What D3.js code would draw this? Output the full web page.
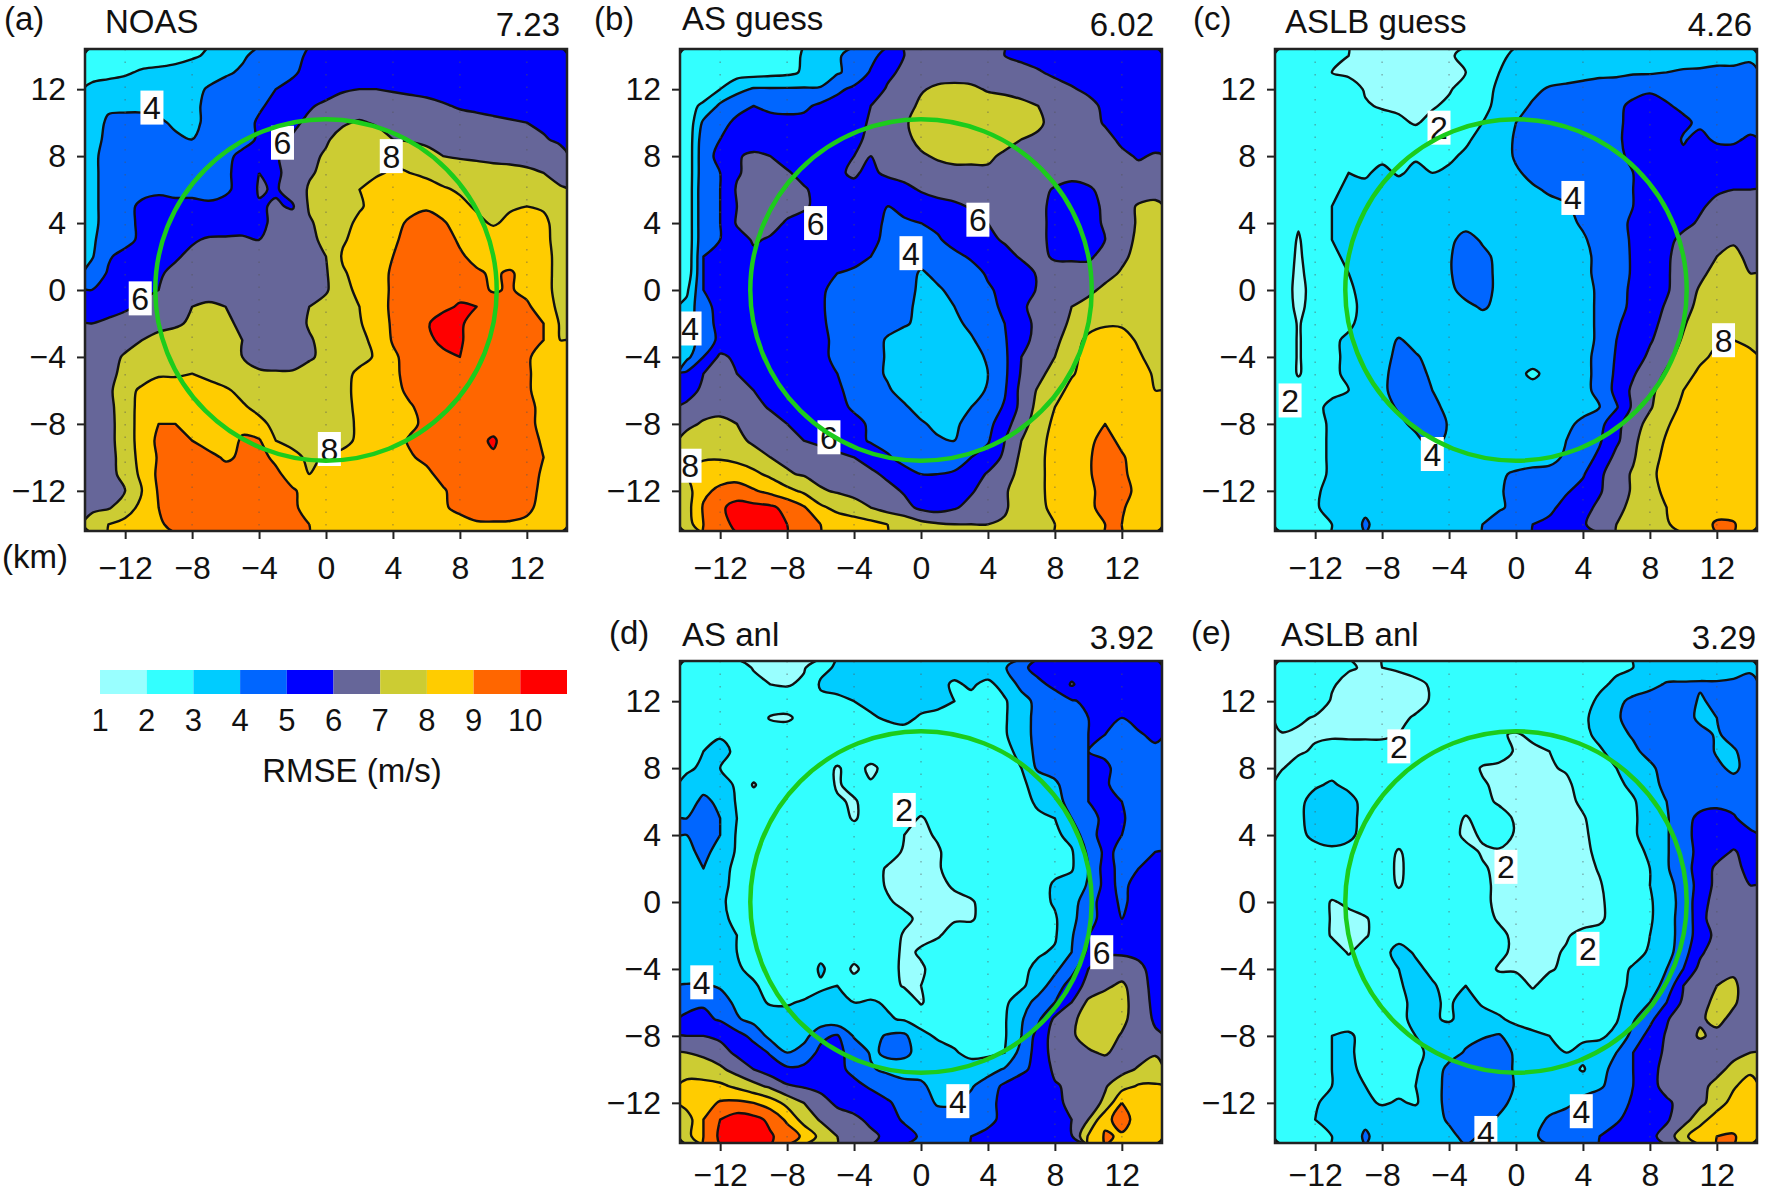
<!DOCTYPE html>
<html lang="en">
<head>
<meta charset="UTF-8">
<title>RMSE panels</title>
<script src="https://d3js.org/d3.v7.min.js"></script>
<style>
  body { margin: 0; background: #fff; }
  text { font-family: "Liberation Sans", Arial, sans-serif; fill: #111; }
</style>
</head>
<body>
<svg width="1767" height="1193"></svg>
<script>
// grids are RMSE in 0.1 m/s, every 1 km
// rows run y = 14 .. -14, columns x = -14 .. 14
var noasGrid = [
[26,26,26,26,26,27,29,31,35,39,42,46,48,51,53,54,54,54,54,54,54,54,54,54,54,54,54,54,54],
[27,28,29,31,32,33,34,36,39,41,43,46,49,52,54,55,55,54,54,54,54,54,54,54,54,54,54,54,54],
[32,33,34,35,36,36,37,41,43,45,47,50,52,54,56,59,60,60,59,58,57,56,56,55,55,54,54,54,54],
[35,39,38,38,38,38,39,41,43,46,49,52,55,59,62,64,65,65,65,64,63,61,59,58,57,56,55,54,53],
[37,41,43,43,41,39,39,41,43,47,51,54,58,62,66,69,71,69,68,67,66,65,64,63,62,61,60,58,56],
[37,42,44,44,43,41,40,42,44,47,51,55,61,65,69,73,75,74,70,69,68,67,66,65,64,63,62,61,58],
[38,43,44,45,46,46,46,46,48,52,55,59,64,68,71,74,76,77,78,76,73,70,69,68,67,67,66,65,64],
[38,43,45,46,47,47,47,47,49,52,60,58,64,69,72,75,77,79,81,80,78,76,75,75,74,73,72,70,67],
[38,43,45,47,49,48,48,48,49,52,61,59,64,71,74,77,80,83,85,85,84,81,79,78,78,77,76,74,71],
[38,43,47,52,52,52,52,51,52,54,59,61,59,71,75,78,79,83,86,88,89,86,82,79,79,79,80,79,75],
[38,43,47,52,54,54,55,55,56,57,58,62,65,69,73,77,82,85,88,91,93,91,86,82,79,82,83,82,76],
[39,43,47,52,54,56,59,61,61,61,60,62,65,68,72,79,83,86,89,92,94,93,89,86,85,84,83,82,77],
[39,49,53,55,57,59,62,64,65,65,65,65,66,68,70,81,84,87,90,92,94,93,91,88,86,86,85,83,77],
[44,51,54,56,59,62,64,65,66,66,66,66,67,68,69,79,83,87,91,93,95,94,92,91,89,91,87,83,77],
[50,53,55,57,60,62,64,65,66,66,66,66,67,68,69,76,83,87,91,93,95,96,97,93,89,91,87,83,77],
[50,54,58,62,64,66,70,72,70,67,66,65,64,70,73,76,80,85,92,94,96,98,101,100,96,93,92,84,78],
[60,63,65,67,68,69,71,73,72,68,66,65,65,71,74,76,79,86,91,95,99,104,101,97,95,94,93,90,79],
[62,65,67,70,72,73,74,74,72,70,65,64,65,69,73,76,78,82,91,95,98,102,101,96,94,94,93,90,80],
[63,67,71,73,75,76,77,76,73,70,62,61,62,69,72,75,77,81,88,94,96,98,100,97,95,94,91,87,80],
[63,68,72,75,79,79,80,78,76,74,73,72,72,73,75,77,82,85,88,93,95,96,97,96,95,94,91,87,81],
[63,68,76,82,84,84,84,83,81,78,76,74,73,73,74,77,83,85,87,92,94,95,96,96,95,94,91,87,82],
[62,67,76,83,87,88,87,86,84,81,78,76,74,73,73,76,83,85,87,89,93,95,96,96,96,95,92,88,82],
[62,67,75,84,90,90,88,87,85,88,82,78,76,74,73,76,82,85,86,88,92,94,96,97,97,95,92,88,82],
[61,67,75,84,92,94,90,87,86,91,91,80,77,75,74,77,82,84,86,91,94,96,97,98,101,96,93,89,82],
[60,66,75,83,91,95,95,92,89,91,93,88,83,78,81,83,84,85,86,89,92,95,97,98,99,96,93,90,83],
[60,66,74,82,92,95,96,95,93,93,94,92,86,80,82,83,84,85,86,87,88,93,96,97,97,96,93,89,83],
[61,65,70,80,91,95,96,96,96,96,95,93,91,87,85,84,84,84,85,86,87,89,94,96,96,96,93,88,82],
[68,69,75,83,90,94,95,95,94,94,93,92,91,88,85,84,84,84,84,85,86,89,92,94,95,94,92,87,82],
[74,80,83,85,89,92,93,93,93,92,92,92,91,90,85,84,84,84,84,84,84,85,87,89,89,89,88,85,81]];

var asGuessGrid = [
[25,25,25,25,25,25,26,31,35,39,43,47,54,60,62,63,63,63,62,60,58,56,55,54,54,53,53,53,53],
[24,25,25,26,26,27,28,31,34,39,43,51,58,62,64,65,65,65,65,64,63,61,58,56,55,54,53,53,53],
[25,27,30,37,41,41,41,41,41,48,52,55,61,65,69,72,73,72,69,68,67,66,64,61,58,56,55,54,54],
[28,31,42,47,50,48,47,48,52,54,57,60,63,66,72,74,75,75,75,74,72,70,68,66,63,58,55,54,53],
[22,42,47,52,53,53,53,53,53,54,57,61,64,69,73,75,76,76,76,76,75,71,68,66,64,59,56,54,53],
[22,46,50,53,54,54,54,54,55,56,58,62,65,68,72,74,75,75,74,72,70,69,68,67,65,63,58,56,56],
[22,47,52,59,62,60,56,55,56,58,60,60,64,67,69,71,72,72,71,69,68,68,67,66,65,64,62,59,61],
[22,47,50,59,63,63,61,57,56,59,61,58,62,64,66,67,68,68,69,69,68,67,65,63,63,63,63,63,63],
[22,48,50,61,64,64,63,61,57,55,58,56,54,57,61,64,65,66,66,66,65,63,59,57,59,62,64,65,65],
[22,48,50,60,64,64,63,62,56,54,52,51,50,52,54,56,58,61,63,65,65,62,58,56,56,62,66,71,73],
[22,48,50,61,63,63,59,55,54,52,52,52,49,49,50,52,55,57,60,62,64,62,58,55,54,62,66,71,74],
[22,48,50,56,61,59,56,54,53,52,52,51,49,46,46,49,53,56,58,61,63,62,58,55,54,60,66,72,75],
[22,50,53,54,58,55,54,53,52,52,52,50,47,44,43,45,48,51,54,57,61,62,59,58,58,64,68,73,76],
[23,50,53,54,55,55,54,53,51,50,49,48,46,44,39,42,44,47,51,53,56,61,63,65,65,67,71,74,76],
[28,50,53,54,55,55,54,53,51,48,46,45,44,42,39,39,42,45,49,52,55,61,64,66,68,72,74,75,76],
[33,48,52,54,55,54,54,53,51,47,45,44,43,42,38,37,40,43,47,52,59,62,66,70,73,75,76,76,76],
[34,47,52,56,55,54,54,53,51,48,46,45,43,41,38,36,38,42,45,50,57,62,65,72,77,79,79,77,76],
[34,45,52,60,55,54,54,53,51,49,46,44,39,36,34,34,36,39,44,49,58,62,67,76,82,84,83,79,77],
[37,50,62,58,54,54,53,53,51,49,46,44,39,35,33,33,34,37,41,48,60,63,70,77,84,86,85,81,77],
[52,60,65,60,56,55,54,54,52,50,47,43,39,35,33,32,33,36,40,48,61,67,74,79,84,87,87,83,79],
[56,62,66,65,60,56,55,54,53,51,48,44,41,37,34,32,33,36,41,49,63,71,76,83,86,87,87,84,80],
[62,63,65,65,63,59,56,55,54,52,49,46,43,41,37,34,35,40,45,51,63,73,80,84,87,88,87,85,82],
[66,72,74,70,67,64,60,57,56,55,52,49,46,43,41,38,39,42,47,56,66,75,82,85,87,90,88,85,83],
[76,77,76,73,68,66,64,60,58,56,53,49,47,45,43,41,40,43,49,60,70,77,83,85,88,93,88,85,83],
[77,79,79,77,75,70,68,66,64,62,60,56,51,47,45,45,46,50,54,62,72,78,83,86,89,94,91,86,83],
[81,84,86,86,82,78,71,69,67,65,63,62,58,53,50,50,51,55,61,66,73,78,83,86,89,94,92,86,83],
[76,88,92,94,91,87,83,78,71,69,67,65,63,59,54,52,55,59,64,69,74,78,83,86,88,93,94,87,83],
[76,91,98,104,103,102,97,91,82,77,74,70,66,63,58,56,59,63,66,69,74,78,82,85,88,93,91,86,83],
[74,90,97,102,101,101,100,98,90,87,85,83,80,77,73,71,70,70,70,71,74,77,80,83,86,90,90,85,82]];

var aslbGuessGrid = [
[26,26,26,22,20,19,18,18,18,18,19,22,27,29,31,33,34,34,35,35,35,36,36,36,36,37,37,37,38],
[26,27,27,20,18,17,17,17,17,17,17,20,26,30,32,33,35,36,37,38,38,39,39,40,41,41,42,42,43],
[27,28,28,27,25,19,18,17,17,17,19,24,28,31,35,38,41,42,43,44,45,47,49,47,46,45,44,44,44],
[27,28,28,27,26,21,19,18,17,19,22,25,28,32,37,41,43,44,45,46,48,52,53,51,48,46,45,44,44],
[28,28,28,28,27,26,24,22,19,23,26,28,30,35,40,42,43,44,45,46,48,53,56,54,52,48,46,45,45],
[28,28,29,28,28,28,27,27,26,26,27,29,32,36,41,43,44,45,45,46,48,54,57,56,49,53,48,48,52],
[28,28,29,28,28,28,28,28,29,28,29,31,33,36,41,43,44,45,46,47,48,52,56,57,52,56,56,55,55],
[28,28,28,28,30,29,32,29,32,30,31,33,35,37,39,42,44,45,46,47,49,50,54,56,57,57,57,58,58],
[28,28,28,29,31,32,33,34,34,35,35,35,36,37,38,39,41,43,45,47,49,50,54,57,58,59,59,60,60],
[28,28,28,30,31,32,33,34,34,35,35,35,35,36,36,37,38,39,43,46,49,50,53,55,57,59,62,64,65],
[27,21,27,30,31,32,33,34,35,35,36,37,36,36,36,36,37,38,41,44,48,51,53,56,58,61,64,66,67],
[27,19,27,30,31,32,33,34,35,36,38,43,39,37,36,36,36,37,39,43,47,51,54,58,62,65,67,69,68],
[27,18,27,29,31,32,33,34,35,37,39,45,42,38,36,36,36,37,38,42,46,51,54,59,63,66,70,72,68],
[27,17,26,28,30,32,33,34,35,37,39,45,43,38,36,36,36,37,38,42,46,51,54,59,64,68,73,75,70],
[27,16,25,27,29,32,33,34,35,36,38,43,43,38,36,36,36,36,38,41,46,52,55,59,65,71,75,78,76],
[27,17,25,27,29,31,33,34,35,36,37,38,41,38,36,36,36,36,38,41,47,52,56,61,66,73,76,78,77],
[28,19,26,28,29,32,33,34,35,36,36,36,36,36,36,36,36,36,38,41,49,53,57,63,69,75,78,79,77],
[28,19,26,29,31,32,35,41,37,36,36,36,36,36,36,36,36,36,38,41,50,53,59,65,71,76,79,80,79],
[28,19,26,29,31,33,36,43,41,37,36,35,35,35,35,35,35,36,38,42,51,55,62,68,73,78,82,83,81],
[28,19,26,29,31,33,37,45,44,38,36,35,34,34,33,28,33,35,38,42,52,59,66,71,76,82,84,85,82],
[27,25,28,29,30,33,37,46,46,40,37,35,34,34,34,34,34,35,38,42,53,62,68,74,80,83,85,85,83],
[27,27,29,31,30,33,37,41,47,43,37,35,34,34,34,33,34,35,37,40,49,62,69,76,82,85,86,86,84],
[27,27,28,31,33,34,36,38,42,46,39,36,35,35,35,35,36,38,42,47,57,66,73,79,84,86,87,86,84],
[27,27,28,31,33,34,36,37,38,43,38,36,35,35,35,35,37,40,45,49,58,68,75,81,85,87,87,86,84],
[27,27,28,31,33,34,35,36,37,37,36,36,36,36,36,37,38,41,46,52,63,69,77,82,85,87,87,86,84],
[27,27,28,31,33,34,35,35,36,36,36,37,38,39,41,42,42,46,49,58,66,71,78,83,85,86,87,86,84],
[27,27,29,32,33,34,35,35,36,36,36,37,38,39,43,45,47,49,53,59,66,71,77,82,85,86,86,85,83],
[27,27,29,33,35,37,36,36,36,36,37,38,38,39,42,45,48,53,57,62,68,72,76,80,84,86,87,85,83],
[26,27,28,30,32,42,34,35,35,36,37,38,40,44,47,50,52,55,59,64,70,73,76,79,84,87,91,91,83]];

var asAnlGrid = [
[26,27,27,26,19,18,18,19,28,31,33,33,33,33,33,33,33,34,35,39,48,53,54,55,55,54,54,54,54],
[27,27,27,26,24,20,19,22,31,33,34,34,34,34,33,32,29,31,28,33,43,48,52,61,55,54,54,53,53],
[27,27,27,27,27,27,27,27,28,28,30,32,33,33,33,32,30,28,28,29,36,43,46,49,52,54,54,53,53],
[28,28,28,28,27,19,18,24,27,27,28,29,31,32,29,28,28,28,28,29,36,43,45,47,50,54,50,53,52],
[27,28,29,28,27,27,27,26,26,26,26,26,26,27,27,27,27,27,28,29,36,43,46,48,50,50,49,49,52],
[27,30,33,28,27,27,27,26,26,26,26,26,26,26,26,27,27,27,27,28,32,44,47,49,50,49,48,47,48],
[29,31,30,28,26,26,26,26,25,19,24,18,23,26,26,26,27,27,27,28,30,42,44,47,50,51,48,47,47],
[32,37,33,29,19,26,26,26,25,19,23,21,24,25,26,26,26,27,27,28,29,32,38,46,50,51,47,46,47],
[36,42,38,29,26,26,26,26,25,21,19,24,25,25,26,26,26,26,27,27,28,31,36,44,50,52,50,46,46],
[40,45,40,30,26,26,26,25,25,24,19,24,25,24,19,24,25,26,26,26,27,29,30,40,47,52,51,46,47],
[40,45,40,29,26,26,26,25,25,25,25,25,24,20,18,21,24,25,26,26,27,27,28,33,47,53,50,46,49],
[37,43,36,29,26,26,25,25,25,25,25,25,24,19,18,19,24,25,26,26,27,27,28,29,42,52,48,47,50],
[32,40,33,28,26,26,25,25,25,25,25,24,19,18,17,19,24,25,25,26,26,27,28,29,40,54,47,50,54],
[30,34,32,28,26,26,25,25,25,25,25,24,19,18,17,18,21,24,25,25,26,27,31,34,41,53,48,53,53],
[30,32,31,28,26,26,25,25,25,25,25,24,21,18,17,17,18,19,24,25,26,27,31,35,47,53,49,52,54],
[30,32,31,29,26,26,25,25,25,25,25,25,24,22,18,18,19,19,24,25,26,27,29,37,47,53,50,54,54],
[31,32,31,30,27,26,25,25,25,25,25,25,25,19,18,19,24,25,25,25,26,27,29,39,50,54,55,55,55],
[31,32,32,30,27,26,25,25,28,25,25,25,25,18,21,25,25,25,25,26,27,29,31,40,52,59,59,58,56],
[32,33,32,31,28,26,25,25,31,27,18,25,24,18,19,23,25,25,25,26,28,32,38,46,60,63,64,62,57],
[41,41,39,36,31,27,25,25,29,30,25,25,24,19,20,24,25,25,25,26,28,36,44,55,63,68,72,64,57],
[45,49,44,38,33,29,29,31,32,31,30,31,29,27,19,26,26,26,26,28,36,43,50,60,72,75,74,64,58],
[53,52,49,41,37,35,34,33,33,33,33,33,31,29,27,26,26,26,27,29,39,48,62,68,74,77,73,64,59],
[60,60,58,54,47,37,36,36,48,51,39,37,41,42,32,29,27,27,28,29,40,54,64,69,73,75,69,63,61],
[70,68,64,58,55,49,40,45,52,52,47,39,41,42,37,33,31,27,28,30,44,54,64,67,69,71,67,66,69],
[74,75,72,66,60,55,52,52,52,52,48,41,38,36,38,36,35,35,36,41,48,53,62,64,64,65,67,71,74],
[84,83,82,78,73,68,61,59,57,55,52,49,46,43,41,38,36,39,45,52,55,56,59,62,65,69,76,81,81],
[84,86,91,92,90,85,77,70,64,58,56,54,51,47,44,39,39,43,48,52,54,55,58,62,65,72,90,87,84],
[75,90,100,105,103,98,88,76,69,65,62,58,53,49,46,44,45,47,49,51,53,55,57,60,70,88,93,87,84],
[76,90,102,103,102,101,96,88,77,70,65,62,58,53,49,48,49,50,51,52,54,55,56,59,81,91,89,86,84]];

var aslbAnlGrid = [
[27,27,27,26,21,19,20,21,23,25,26,26,27,27,27,27,27,27,27,28,29,30,32,34,35,36,36,38,39],
[27,27,27,21,17,16,16,17,18,21,24,25,26,27,27,27,27,27,28,29,31,33,37,41,41,41,41,41,42],
[27,27,26,19,16,15,15,15,17,21,24,25,26,27,27,27,27,27,28,31,37,43,45,46,44,39,42,44,45],
[26,22,19,17,16,16,16,18,21,24,25,26,26,27,27,27,27,27,29,32,39,43,45,46,44,38,40,44,45],
[19,18,18,18,18,18,18,20,23,25,26,26,26,21,19,22,26,27,28,32,37,41,44,46,46,43,39,43,45],
[18,18,22,26,25,25,25,26,26,26,26,26,26,24,19,18,20,25,27,29,33,38,43,46,46,45,39,39,44],
[19,26,27,27,27,26,26,26,26,26,26,25,19,18,17,18,19,21,26,28,30,34,38,44,46,46,42,38,44],
[27,27,29,31,28,26,26,26,25,25,25,25,21,18,17,16,17,18,24,26,28,32,36,43,46,46,46,44,45],
[27,28,33,35,33,27,26,25,25,25,25,25,22,19,17,15,16,17,22,25,27,29,35,40,46,47,48,47,45],
[27,28,34,36,33,27,26,25,25,25,25,19,24,23,19,16,15,16,19,25,27,29,33,39,47,52,53,51,46],
[27,28,32,34,32,27,26,25,25,25,24,18,21,24,19,16,15,16,18,24,26,29,33,39,47,53,54,54,52],
[27,28,27,28,27,26,25,19,25,25,25,23,19,19,17,15,14,15,17,23,26,28,31,39,47,52,56,61,56],
[27,27,27,27,26,26,25,18,25,25,25,24,21,18,16,15,14,14,16,21,26,28,30,39,46,54,62,63,57],
[26,27,27,27,26,26,25,19,25,25,25,24,22,18,16,15,14,14,16,19,26,28,30,36,45,53,63,64,60],
[26,26,27,19,22,26,26,25,25,25,25,24,22,18,16,15,14,14,15,18,25,28,29,35,44,55,65,66,64],
[26,25,27,19,17,19,25,26,26,26,25,24,23,19,16,14,14,15,16,18,25,27,29,35,45,54,70,67,65],
[27,27,27,19,17,19,25,27,26,26,25,24,23,22,18,16,18,19,23,24,25,27,30,35,45,54,63,68,66],
[27,27,27,26,19,25,27,33,29,26,25,24,23,22,18,17,18,21,23,24,25,27,31,36,46,58,66,68,67],
[27,27,27,27,26,26,27,30,32,28,26,25,24,19,19,19,19,22,23,24,27,31,35,40,50,63,67,69,67],
[27,27,27,27,27,27,27,29,33,31,27,30,26,25,24,19,24,24,24,25,27,32,36,43,60,64,70,71,67],
[27,27,27,27,27,27,27,28,32,31,29,33,29,27,26,25,25,25,25,26,28,34,40,50,62,66,73,71,66],
[27,27,27,27,27,26,26,27,33,31,29,33,33,31,28,26,25,25,25,26,29,39,47,59,66,69,72,68,65],
[27,27,27,30,31,28,26,26,30,33,35,37,39,41,34,32,30,28,28,28,33,43,54,61,66,71,68,66,65],
[27,27,27,30,31,28,27,26,28,32,36,41,45,46,38,35,33,30,33,36,40,50,55,62,64,65,66,67,70],
[27,27,28,30,32,28,27,26,29,34,43,46,47,47,38,36,35,34,29,37,43,50,57,63,64,65,67,73,78],
[27,27,28,30,33,30,26,27,30,36,43,47,47,46,39,37,36,36,37,39,43,50,58,62,64,67,73,79,84],
[27,27,29,33,34,32,29,31,29,36,43,47,46,42,38,37,37,38,42,44,47,51,56,59,62,67,76,83,84],
[27,27,30,33,35,37,36,36,36,37,41,47,42,39,37,37,41,44,46,47,49,53,56,59,65,77,84,85,84],
[26,27,28,30,32,42,34,35,36,36,38,42,39,37,37,39,42,45,48,50,53,55,58,63,78,85,90,91,84]];

var noasLabels = [["4",-10.4,10.9],["6",-2.6,8.8],["8",3.9,8],["6",-11.1,-0.5],["8",0.2,-9.5]];
var asGuessLabels = [["6",-6.3,4],["6",3.4,4.2],["4",-0.6,2.2],["4",-13.8,-2.3],["6",-5.5,-8.8],["8",-13.8,-10.5]];
var aslbGuessLabels = [["2",-4.6,9.7],["4",3.4,5.5],["8",12.4,-3],["2",-13.5,-6.6],["4",-5,-9.8]];
var asAnlLabels = [["2",-1,5.5],["6",10.8,-3],["4",-13.1,-4.8],["4",2.2,-11.9]];
var aslbAnlLabels = [["2",-7,9.3],["2",-0.6,2.1],["2",4.3,-2.8],["4",3.9,-12.5],["4",-1.8,-13.8]];

var panelIds = ["(a)", "(b)", "(c)", "(d)", "(e)"];
var panelNames = ["NOAS", "AS guess", "ASLB guess", "AS anl", "ASLB anl"];
var panelScores = ["7.23", "6.02", "4.26", "3.92", "3.29"];
var axisTicks = [-12, -8, -4, 0, 4, 8, 12];
var levels = [1, 2, 3, 4, 5, 6, 7, 8, 9, 10];
var levelColors = ["#99ffff", "#33ffff", "#00ccff", "#0066ff", "#0000ff", "#666699", "#cccc33", "#ffcc00", "#ff6600", "#ff0000"];
var ringRadius = 10.2;

var grids = [noasGrid, asGuessGrid, aslbGuessGrid, asAnlGrid, aslbAnlGrid];
var labelSets = [noasLabels, asGuessLabels, aslbGuessLabels, asAnlLabels, aslbAnlLabels];

// plot box and title offsets for each panel, pad is the gap under the x ticks
var layout = [
  {l: 85,   t: 49,  pad: 17, idx: 4,    idy: 30,  nx: 105,  ny: 33,  sx: 560,  sy: 36},
  {l: 680,  t: 49,  pad: 17, idx: 594,  idy: 30,  nx: 682,  ny: 30,  sx: 1154, sy: 36},
  {l: 1275, t: 49,  pad: 17, idx: 1193, idy: 30,  nx: 1285, ny: 33,  sx: 1752, sy: 36},
  {l: 680,  t: 661, pad: 12, idx: 609,  idy: 644, nx: 682,  ny: 646, sx: 1154, sy: 649},
  {l: 1275, t: 661, pad: 12, idx: 1191, idy: 644, nx: 1281, ny: 646, sx: 1756, sy: 649}
];
var size = 482, tickFont = 32, titleFont = 33;

var svg = d3.select("svg");
var color = d3.scaleThreshold().domain(levels.slice(1)).range(levelColors);
var fmt = function(d) { return d < 0 ? "\u2212" + (-d) : "" + d; };

// contour rings come back in grid units, smooth them a little when drawn
var contours = d3.contours().size([29, 29]).thresholds(levels);

grids.forEach(function(grid, i) {
  grid.forEach(function(row) { if (row.length !== 29) throw new Error("bad row in panel " + i + ": " + row.length); });
  if (grid.length !== 29) throw new Error("bad grid " + i + ": " + grid.length);

  var box = layout[i];
  var x = d3.scaleLinear().domain([-14.4, 14.4]).range([0, size]);
  var y = d3.scaleLinear().domain([-14.4, 14.4]).range([size, 0]);
  var g = svg.append("g").attr("transform", "translate(" + box.l + "," + box.t + ")");

  svg.append("clipPath").attr("id", "clip" + i).append("rect").attr("width", size).attr("height", size);
  var plot = g.append("g").attr("clip-path", "url(#clip" + i + ")");

  var line = d3.line()
    .x(function(p) { return x(p[0] - 14.5); })
    .y(function(p) { return y(14.5 - p[1]); })
    .curve(d3.curveCatmullRomClosed.alpha(0.5));

  var ringPath = function(geo) {
    return geo.coordinates.map(function(poly) {
      return poly.map(function(ring) { return line(ring.slice(0, -1)); }).join("");
    }).join("");
  };

  plot.append("rect").attr("width", size).attr("height", size).attr("fill", levelColors[0]);
  plot.selectAll("path.band")
    .data(contours(grid.flat().map(function(v) { return v / 10; })))
    .enter().append("path")
    .attr("class", "band")
    .attr("d", ringPath)
    .attr("fill", function(d) { return color(d.value); })
    .attr("fill-rule", "evenodd")
    .attr("stroke", function(d) { return d.value === 1 ? "none" : "#111"; })
    .attr("stroke-width", 2.4)
    .attr("stroke-linejoin", "round");

  // faint dotted verticals at the ticks
  plot.selectAll("line.dot").data(axisTicks).enter().append("line")
    .attr("class", "dot")
    .attr("x1", x).attr("x2", x).attr("y1", 0).attr("y2", size)
    .attr("stroke", "#555").attr("stroke-opacity", 0.45)
    .attr("stroke-width", 1.5).attr("stroke-dasharray", "1.5 11");

  var labels = plot.selectAll("g.lab").data(labelSets[i]).enter().append("g")
    .attr("class", "lab")
    .attr("transform", function(d) { return "translate(" + x(d[1]) + "," + y(d[2]) + ")"; });
  labels.append("rect").attr("x", -11.5).attr("y", -17).attr("width", 23).attr("height", 34).attr("fill", "#fff");
  labels.append("text").attr("text-anchor", "middle").attr("dy", "0.36em")
    .attr("font-size", tickFont).text(function(d) { return d[0]; });

  plot.append("circle")
    .attr("cx", x(0)).attr("cy", y(0)).attr("r", x(ringRadius) - x(0))
    .attr("fill", "none").attr("stroke", "#1ccc1c").attr("stroke-width", 4.5);

  g.append("rect").attr("width", size).attr("height", size)
    .attr("fill", "none").attr("stroke", "#222").attr("stroke-width", 2.5);

  var yAxis = d3.axisLeft(y).tickValues(axisTicks).tickFormat(fmt).tickSize(8).tickPadding(11);
  var xAxis = d3.axisBottom(x).tickValues(axisTicks).tickFormat(fmt).tickSize(8).tickPadding(box.pad);
  var ay = g.append("g").call(yAxis);
  var ax = g.append("g").attr("transform", "translate(0," + size + ")").call(xAxis);
  [ax, ay].forEach(function(a) {
    a.select(".domain").remove();
    a.selectAll("line").attr("stroke", "#222").attr("stroke-width", 2);
    a.selectAll("text").attr("font-size", tickFont).attr("font-family", '"Liberation Sans", Arial, sans-serif').attr("fill", "#111");
  });

  svg.append("text").attr("x", box.idx).attr("y", box.idy).attr("font-size", titleFont).text(panelIds[i]);
  svg.append("text").attr("x", box.nx).attr("y", box.ny).attr("font-size", titleFont).text(panelNames[i]);
  svg.append("text").attr("x", box.sx).attr("y", box.sy).attr("font-size", titleFont).attr("text-anchor", "end").text(panelScores[i]);
});

svg.append("text").attr("x", 2).attr("y", 568).attr("font-size", titleFont).text("(km)");

// colour bar
var barScale = d3.scaleLinear().domain([1, 11]).range([100, 567]);
var bar = svg.append("g");
bar.selectAll("rect").data(levels).enter().append("rect")
  .attr("x", function(d) { return barScale(d); })
  .attr("y", 670)
  .attr("width", function(d) { return barScale(d + 1) - barScale(d); })
  .attr("height", 24)
  .attr("fill", function(d) { return color(d); });
bar.selectAll("text").data(levels).enter().append("text")
  .attr("x", function(d) { return barScale(d) + (d === 10 ? 5 : 0); })
  .attr("y", 731)
  .attr("text-anchor", "middle")
  .attr("font-size", 31)
  .text(function(d) { return d; });
svg.append("text").attr("x", 352).attr("y", 782).attr("text-anchor", "middle").attr("font-size", titleFont).text("RMSE (m/s)");
</script>
</body>
</html>
